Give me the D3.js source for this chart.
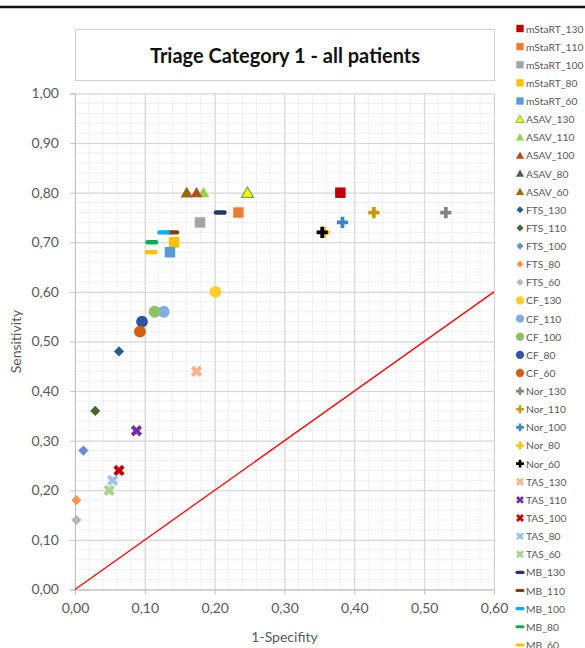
<!DOCTYPE html>
<html>
<head>
<meta charset="utf-8">
<script src="https://cdn.jsdelivr.net/npm/d3@7"></script>
<style>
  body { margin: 0; background: #fff; }
  text { font-family: Lato, "Open Sans", sans-serif; }
</style>
</head>
<body>
<div id="chart"></div>
<script>
// series data: 1-specificity (x) and sensitivity (y)
const seriesNames = ['mStaRT_130', 'mStaRT_110', 'mStaRT_100', 'mStaRT_80', 'mStaRT_60',
  'ASAV_130', 'ASAV_110', 'ASAV_100', 'ASAV_80', 'ASAV_60',
  'FTS_130', 'FTS_110', 'FTS_100', 'FTS_80', 'FTS_60',
  'CF_130', 'CF_110', 'CF_100', 'CF_80', 'CF_60',
  'Nor_130', 'Nor_110', 'Nor_100', 'Nor_80', 'Nor_60',
  'TAS_130', 'TAS_110', 'TAS_100', 'TAS_80', 'TAS_60',
  'MB_130', 'MB_110', 'MB_100', 'MB_80', 'MB_60'];
const specX = [0.380, 0.234, 0.179, 0.142, 0.136,
  0.247, 0.184, 0.174, 0.160, 0.160,
  0.063, 0.029, 0.012, 0.002, 0.002,
  0.201, 0.127, 0.114, 0.096, 0.093,
  0.531, 0.428, 0.383, 0.357, 0.354,
  0.174, 0.088, 0.063, 0.054, 0.049,
  0.208, 0.140, 0.127, 0.110, 0.109];
const sensY = [0.80, 0.76, 0.74, 0.70, 0.68,
  0.80, 0.80, 0.80, 0.80, 0.80,
  0.48, 0.36, 0.28, 0.18, 0.14,
  0.60, 0.56, 0.56, 0.54, 0.52,
  0.76, 0.76, 0.74, 0.72, 0.72,
  0.44, 0.32, 0.24, 0.22, 0.20,
  0.76, 0.72, 0.72, 0.70, 0.68];
const xTicks = ['0,00', '0,10', '0,20', '0,30', '0,40', '0,50', '0,60'];
const yTicks = ['0,00', '0,10', '0,20', '0,30', '0,40', '0,50', '0,60', '0,70', '0,80', '0,90', '1,00'];

// styles
const colors = ['#c00000', '#ed7d31', '#a5a5a5', '#ffc000', '#5b9bd5',
  '#ffff00', '#92d050', '#b5501a', '#595959', '#9c6a00',
  '#255e91', '#43682b', '#698ed0', '#f1975a', '#b7b7b7',
  '#ffcd28', '#7cafdd', '#8cc168', '#2f55a0', '#d26012',
  '#848484', '#cc9a06', '#3d85c6', '#ffc000', '#000000',
  '#f8b084', '#7030a0', '#c00000', '#9dc3e6', '#a9d18e',
  '#203864', '#843c0c', '#00b0f0', '#00b050', '#ffc000'];
const shapeByGroup = ['square', 'triangle', 'diamond', 'circle', 'plus', 'x', 'dash'];

const W = 585, H = 648;
const svg = d3.select('#chart').append('svg')
  .attr('width', W).attr('height', H);

const x = d3.scaleLinear().domain([0, 0.6]).range([75, 494]);
const y = d3.scaleLinear().domain([0, 1]).range([589.5, 93.5]);

// top border line
svg.append('line')
  .attr('x1', 0).attr('x2', W).attr('y1', 7).attr('y2', 7)
  .attr('stroke', '#111').attr('stroke-width', 2.5);

// title box
svg.append('rect')
  .attr('x', 75.5).attr('y', 29.5).attr('width', 419).attr('height', 51)
  .attr('fill', '#fff').attr('stroke', '#d0d0d0');
svg.append('text')
  .attr('x', 285).attr('y', 62.5)
  .attr('text-anchor', 'middle')
  .attr('font-size', 20).attr('font-weight', 'bold').attr('fill', '#111')
  .text('Triage Category 1 - all patients');

// minor grid
const minorX = d3.range(0, 0.6001, 0.02);
const minorY = d3.range(0, 1.0001, 0.02);
const grid = svg.append('g');
grid.selectAll('.mx').data(minorX).enter().append('line')
  .attr('x1', d => x(d)).attr('x2', d => x(d))
  .attr('y1', y(0)).attr('y2', y(1))
  .attr('stroke', '#efefef');
grid.selectAll('.my').data(minorY).enter().append('line')
  .attr('x1', x(0)).attr('x2', x(0.6))
  .attr('y1', d => y(d)).attr('y2', d => y(d))
  .attr('stroke', '#efefef');

// major grid
grid.append('g')
  .attr('transform', `translate(0, ${y(0)})`)
  .call(d3.axisBottom(x).ticks(6).tickSize(-(y(0) - y(1))).tickFormat(''))
  .call(g => g.select('.domain').remove())
  .call(g => g.selectAll('line').attr('stroke', '#d4d4d4'));
grid.append('g')
  .attr('transform', `translate(${x(0)}, 0)`)
  .call(d3.axisLeft(y).ticks(10).tickSize(-(x(0.6) - x(0))).tickFormat(''))
  .call(g => g.select('.domain').remove())
  .call(g => g.selectAll('line').attr('stroke', '#d4d4d4'));

// axes
const xAxis = svg.append('g')
  .attr('transform', `translate(0, ${y(0)})`)
  .call(d3.axisBottom(x).ticks(6).tickSize(5).tickPadding(9)
    .tickFormat((d, i) => xTicks[i]));
const yAxis = svg.append('g')
  .attr('transform', `translate(${x(0)}, 0)`)
  .call(d3.axisLeft(y).ticks(10).tickSize(5).tickPadding(11)
    .tickFormat((d, i) => yTicks[i]));
[xAxis, yAxis].forEach(a => {
  a.select('.domain').attr('stroke', '#bfbfbf');
  a.selectAll('line').attr('stroke', '#bfbfbf');
  a.selectAll('text').attr('font-size', 14).attr('fill', '#595959')
    .attr('font-family', 'Lato, sans-serif');
});

// axis titles
svg.append('text')
  .attr('transform', `translate(21, ${(y(0) + y(1)) / 2}) rotate(-90)`)
  .attr('text-anchor', 'middle')
  .attr('font-size', 14).attr('fill', '#595959')
  .text('Sensitivity');
svg.append('text')
  .attr('x', (x(0) + x(0.6)) / 2).attr('y', 642)
  .attr('text-anchor', 'middle')
  .attr('font-size', 14).attr('fill', '#595959')
  .text('1-Specifity');

// diagonal reference line
svg.append('line')
  .attr('x1', x(0)).attr('y1', y(0))
  .attr('x2', x(0.6)).attr('y2', y(0.6))
  .attr('stroke', '#ff0000').attr('stroke-width', 1.3);

// marker drawing
function drawMarker(g, shape, color, k, strokeCol) {
  if (shape === 'dash') {
    g.append('rect')
      .attr('x', -6.5 * k).attr('y', -2.2 * k)
      .attr('width', 13 * k).attr('height', 4.4 * k)
      .attr('rx', 2.2 * k)
      .attr('fill', color);
    return;
  }
  let sym, size, rot = 0;
  if (shape === 'square') { sym = d3.symbolSquare; size = 110; }
  if (shape === 'triangle') { sym = d3.symbolTriangle; size = 60; }
  if (shape === 'diamond') { sym = d3.symbolSquare; size = 52; rot = 45; }
  if (shape === 'circle') { sym = d3.symbolCircle; size = 110; }
  if (shape === 'plus') { sym = d3.symbolCross; size = 70; }
  if (shape === 'x') { sym = d3.symbolCross; size = 80; rot = 45; }
  const p = g.append('path')
    .attr('d', d3.symbol().type(sym).size(size * k * k)())
    .attr('transform', `rotate(${rot})` + (shape === 'triangle' ? ` translate(0, ${1.2 * k})` : ''))
    .attr('fill', color);
  if (strokeCol) p.attr('stroke', strokeCol).attr('stroke-width', 1.3 * k);
}

const points = seriesNames.map((n, i) => ({
  name: n, fx: specX[i], sy: sensY[i], color: colors[i],
  shape: shapeByGroup[Math.floor(i / 5)],
  stroke: n === 'ASAV_130' ? '#70ad47' : null
}));

// draw in order; later series on top
const marks = svg.append('g');
points.forEach(p => {
  const g = marks.append('g')
    .attr('transform', `translate(${x(p.fx)}, ${y(p.sy)})`);
  drawMarker(g, p.shape, p.color, 1, p.stroke);
});

// legend
const legend = svg.append('g');
points.forEach((p, i) => {
  const ly = 28.5 + i * 18.13;
  const g = legend.append('g').attr('transform', `translate(520, ${ly})`);
  drawMarker(g, p.shape, p.color, 0.7, p.stroke);
  legend.append('text')
    .attr('x', 526).attr('y', ly + 4)
    .attr('font-size', 10.3).attr('fill', '#595959')
    .text(p.name);
});
</script>
</body>
</html>
